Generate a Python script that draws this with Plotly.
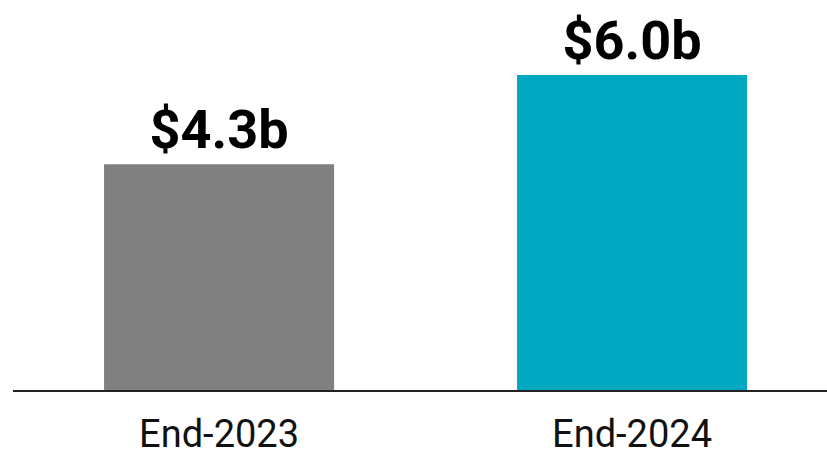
import plotly.graph_objects as go

categories = ["End-2023", "End-2024"]
values = [4.3, 6.0]
labels = ["$4.3b", "$6.0b"]
colors = ["#808080", "#00A8C1"]

x_pos = list(range(len(categories)))

fig = go.Figure(
    go.Bar(
        x=x_pos,
        y=values,
        text=labels,
        textposition="outside",
        textfont=dict(family="Roboto", size=54, color="#000000", weight="bold"),
        marker=dict(color=colors, line=dict(width=0)),
        width=0.557,
        cliponaxis=False,
    )
)

fig.update_layout(
    width=827,
    height=452,
    margin=dict(l=13, r=0, t=0, b=62),
    paper_bgcolor="white",
    plot_bgcolor="white",
    showlegend=False,
    xaxis=dict(
        range=[-0.499, 1.472],
        tickmode="array",
        tickvals=x_pos,
        ticktext=categories,
        showgrid=False,
        zeroline=False,
        showline=True,
        linecolor="#222222",
        linewidth=1.5,
        ticks="",
        ticklabelstandoff=10,
        automargin=False,
        tickfont=dict(family="Roboto", size=38, color="#111111"),
    ),
    yaxis=dict(
        range=[0, 7.43],
        visible=False,
        showgrid=False,
        zeroline=False,
        automargin=False,
    ),
)

fig.write_html(
    "out.html",
    config={"displayModeBar": False},
    post_script="document.body.style.margin='0';",
)
